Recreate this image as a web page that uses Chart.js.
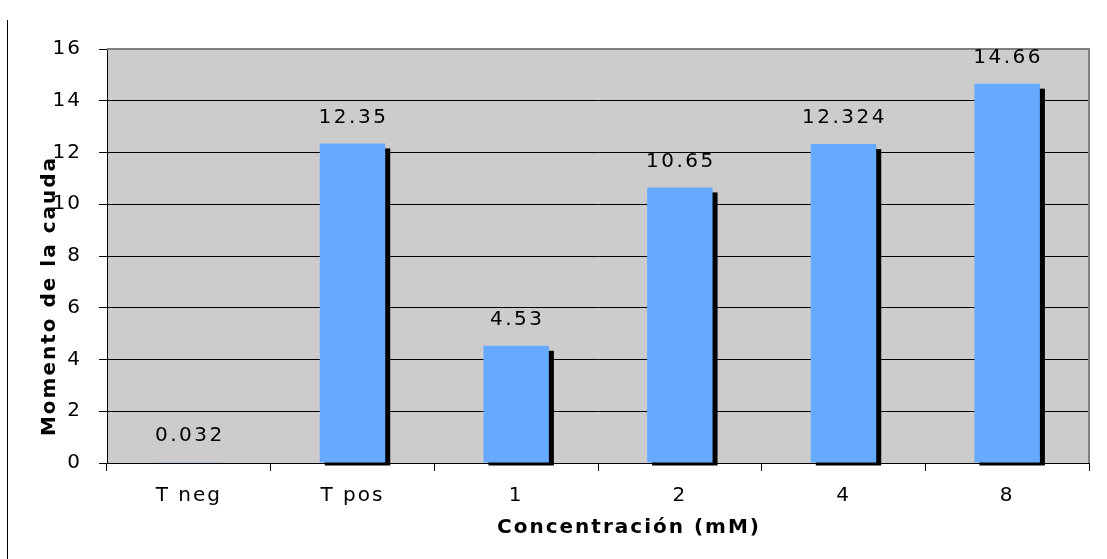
<!DOCTYPE html>
<html>
<head>
<meta charset="utf-8">
<script src="https://cdn.jsdelivr.net/npm/chart.js@4"></script>
<style>
  html, body { margin: 0; padding: 0; background: #fff; }
  #wrap { width: 1107px; height: 559px; }
</style>
</head>
<body>
<div id="wrap"><canvas id="chart"></canvas></div>
<script>
  // Datos del grafico
  var categories = ['T neg', 'T pos', '1', '2', '4', '8'];
  var values = [0.032, 12.35, 4.53, 10.65, 12.324, 14.66];
  var valueLabels = ['0.032', '12.35', '4.53', '10.65', '12.324', '14.66'];
  var yTicks = [0, 2, 4, 6, 8, 10, 12, 14, 16];
  var xTitle = 'Concentración (mM)';
  var yTitle = 'Momento de la cauda';

  var FONT = '"DejaVu Sans", Verdana, sans-serif';

  // Espaciado de letras como en la imagen original.
  function spacing(chart) {
    chart.ctx.letterSpacing = '2px';
  }

  var extras = {
    id: 'extras',
    beforeLayout: spacing,
    beforeDraw: function (chart) {
      spacing(chart);
      var ctx = chart.ctx;
      var a = chart.chartArea;
      ctx.save();
      // fondo gris del area
      ctx.fillStyle = '#cccccc';
      ctx.fillRect(a.left, a.top, a.right - a.left, a.bottom - a.top);
      // linea vertical a la izquierda
      ctx.fillStyle = '#000';
      ctx.fillRect(7, 20, 1, 539);
      ctx.restore();
    },
    beforeDatasetsDraw: function (chart) {
      var ctx = chart.ctx;
      var meta = chart.getDatasetMeta(0);
      ctx.save();
      ctx.fillStyle = '#000';
      meta.data.forEach(function (bar) {
        var h = bar.base - bar.y;
        if (h < 1) { return; }
        ctx.fillRect(bar.x - bar.width / 2 + 5, bar.y + 5, bar.width, h - 2);
      });
      ctx.restore();
    },
    afterDatasetsDraw: function (chart) {
      var ctx = chart.ctx;
      var a = chart.chartArea;
      var meta = chart.getDatasetMeta(0);
      ctx.save();
      // borde superior y derecho gris
      ctx.fillStyle = '#808080';
      ctx.fillRect(a.left, a.top - 1, a.right - a.left + 1, 2);
      ctx.fillRect(a.right - 1, a.top - 1, 2, a.bottom - a.top + 1);
      // etiquetas de valor
      ctx.letterSpacing = '2.5px';
      ctx.font = '20px ' + FONT;
      ctx.fillStyle = '#000';
      ctx.textAlign = 'center';
      ctx.textBaseline = 'middle';
      meta.data.forEach(function (bar, i) {
        ctx.fillText(valueLabels[i], bar.x + 1, bar.y - 26);
      });
      // titulos de los ejes
      ctx.letterSpacing = '2px';
      ctx.font = 'bold 20px ' + FONT;
      ctx.fillText(xTitle, 629, 528);
      ctx.translate(50, 296);
      ctx.rotate(-Math.PI / 2);
      ctx.fillText(yTitle, 0, 0);
      ctx.restore();
    }
  };

  new Chart(document.getElementById('chart'), {
    type: 'bar',
    data: {
      labels: categories,
      datasets: [{
        data: values,
        backgroundColor: '#66aaff',
        borderWidth: 0,
        barPercentage: 0.4,
        categoryPercentage: 1
      }]
    },
    options: {
      responsive: true,
      maintainAspectRatio: false,
      animation: false,
      layout: { padding: { top: 49, right: 18, left: 0, bottom: 0 } },
      plugins: {
        legend: { display: false },
        tooltip: { enabled: false }
      },
      scales: {
        x: {
          offset: true,
          afterFit: function (s) { s.height = 96; },
          grid: {
            offset: true,
            drawOnChartArea: false,
            color: '#000',
            tickLength: 8
          },
          border: { color: '#000', width: 1 },
          ticks: {
            color: '#000',
            padding: 13,
            font: { family: FONT, size: 20 }
          }
        },
        y: {
          min: 0,
          max: 16,
          afterFit: function (s) { s.width = 107; },
          afterBuildTicks: function (s) {
            s.ticks = yTicks.map(function (v) { return { value: v }; });
          },
          grid: {
            color: function (c) { return c.tick && c.tick.value === 16 ? '#808080' : '#000'; },
            tickColor: '#000',
            tickLength: 8
          },
          border: { color: '#000', width: 1 },
          ticks: {
            color: '#000',
            padding: 17,
            font: { family: FONT, size: 20 }
          }
        }
      }
    },
    plugins: [extras]
  });
</script>
</body>
</html>
